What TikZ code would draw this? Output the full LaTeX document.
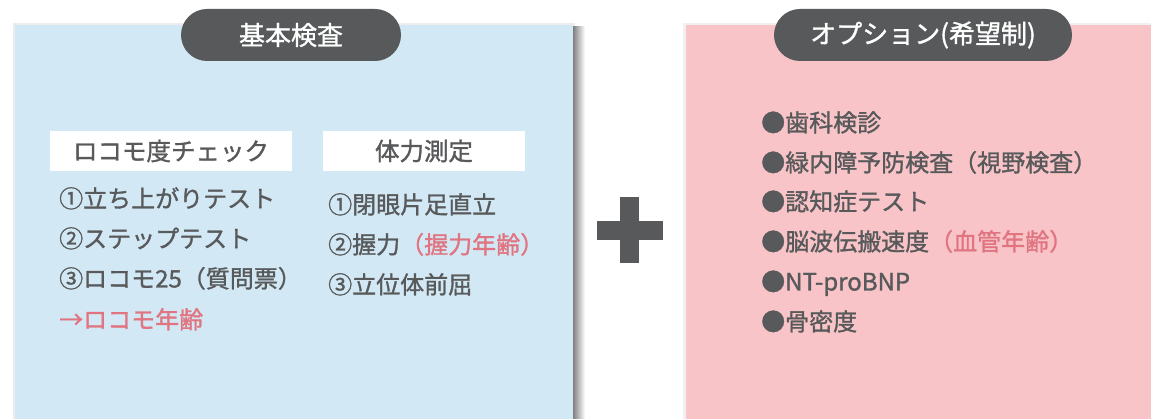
\documentclass[tikz,border=0pt]{standalone}
\usepackage{fontspec}
\newfontfamily\jp[FakeBold=1.2]{Noto Sans CJK JP}
\definecolor{panelblue}{HTML}{D2E9F5}
\definecolor{panelpink}{HTML}{F8C4C7}
\definecolor{dgray}{HTML}{58595B}
\definecolor{accent}{HTML}{E07581}
\tikzset{
  panel/.style={inner sep=0pt, minimum height=394pt},
  tab/.style={fill=dgray, text=white, rounded corners=26pt, minimum height=52pt, inner sep=0pt,
    font=\jp\fontsize{26}{26}\selectfont},
  subbox/.style={fill=white, text=dgray, minimum height=40pt, inner sep=0pt,
    font=\jp\fontsize{24.5}{24.5}\selectfont},
  item/.style={anchor=west, inner sep=0pt, text=dgray, text height=0.85em, text depth=0.15em,
    font=\jp\fontsize{24}{24}\selectfont},
  plusbar/.style={fill=dgray}
}
\begin{document}
\begin{tikzpicture}[x=1pt,y=-1pt]
\useasboundingbox (0,0) rectangle (1151,419);
% shadows
\fill[black!7] (13,23) rectangle (575,419);
\shade[left color=black!50, right color=white] (573,27) rectangle (585,419);
\fill[black!6] (683,23) rectangle (1151,419);
% panels
\node[panel, fill=panelblue, minimum width=558pt] (left) at (294,222) {};
\node[panel, fill=panelpink, minimum width=465pt] (right) at (918.5,222) {};
% tabs
\node[tab, minimum width=220pt] (t1) at (291,35) {基本検査};
\node[tab, minimum width=298pt] (t2) at (923,35) {オプション(希望制)};
% plus
\fill[plusbar] (597,221) rectangle (663,240);
\fill[plusbar] (620,197) rectangle (639,263);
% sub headers
\node[subbox, minimum width=242pt] (h1) at (171,151) {ロコモ度チェック};
\node[subbox, minimum width=202pt] (h2) at (424,151) {体力測定};
% left column
\node[item] (l1) at (59,204) {①立ち上がりテスト};
\node[item] (l2) at (59,244) {②ステップテスト};
\node[item] (l3) at (59,284) {③ロコモ25（質問票）};
\node[item, text=accent] (l4) at (59,325) {→ロコモ年齢};
% right column
\node[item] (r1) at (328,210) {①閉眼片足直立};
\node[item] (r2) at (328,250) {②握力\textcolor{accent}{（握力年齢）}};
\node[item] (r3) at (328,290) {③立位体前屈};
% options
\node[item] (o1) at (761,128) {●歯科検診};
\node[item] (o2) at (761,168) {●緑内障予防検査（視野検査）};
\node[item] (o3) at (761,207) {●認知症テスト};
\node[item] (o4) at (761,247) {●脳波伝搬速度\textcolor{accent}{（血管年齢）}};
\node[item] (o5) at (761,287) {●NT-proBNP};
\node[item] (o6) at (761,327) {●骨密度};
\end{tikzpicture}
\end{document}
